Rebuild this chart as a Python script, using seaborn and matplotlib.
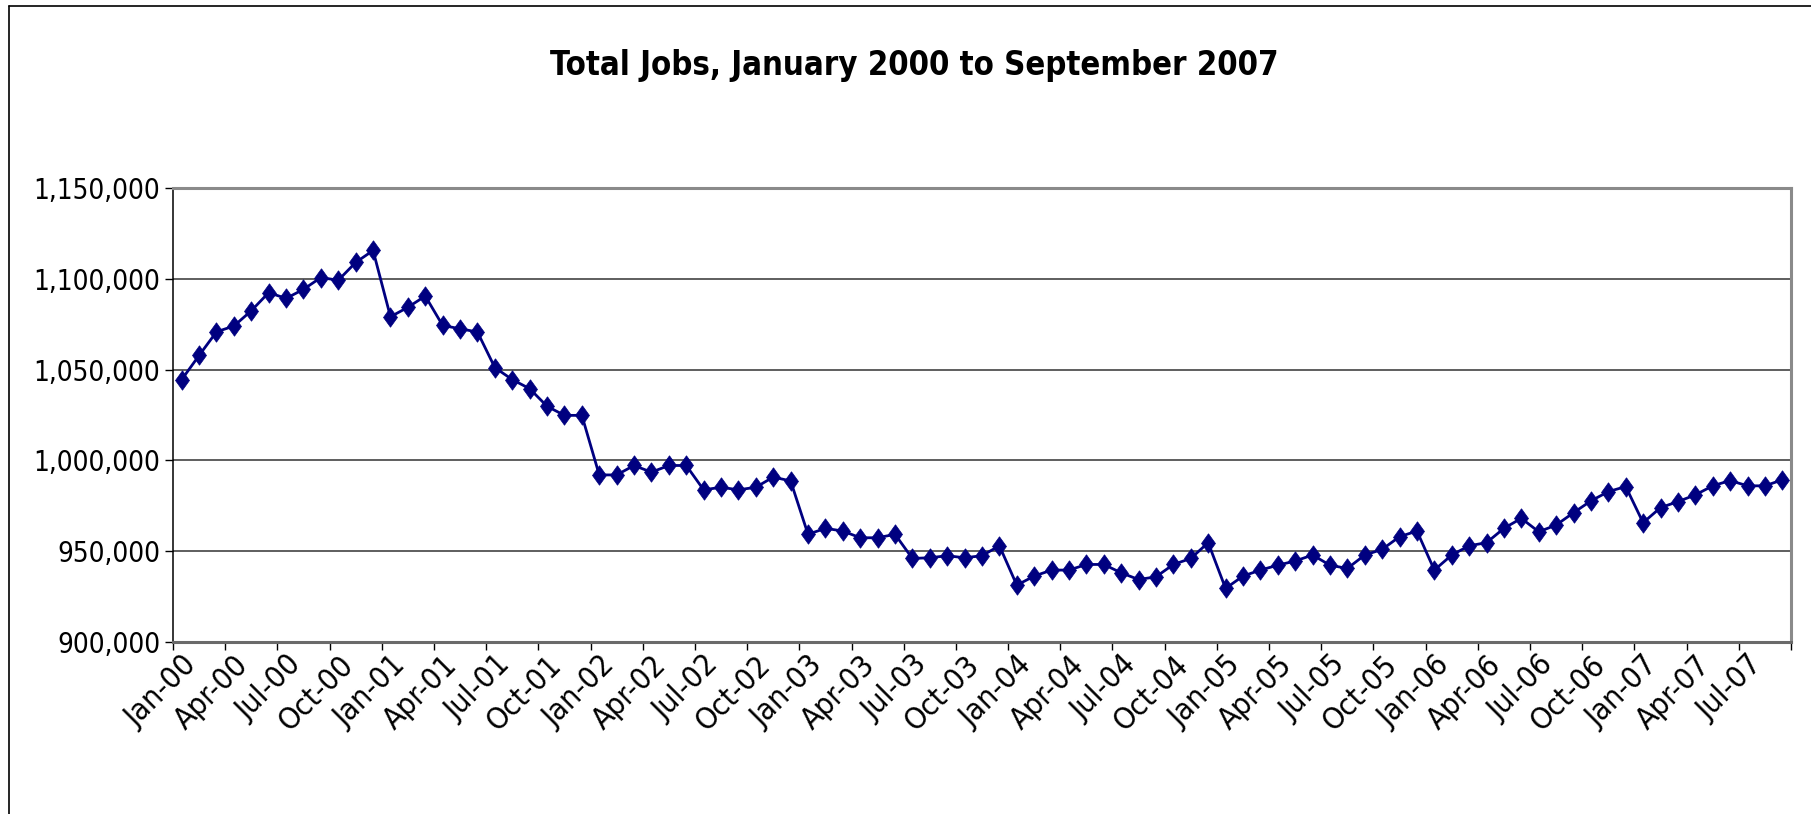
import numpy as np
import pandas as pd
import matplotlib
matplotlib.use("Agg")
import matplotlib.pyplot as plt
from matplotlib import font_manager
from matplotlib.lines import Line2D
import seaborn as sns

# ---- data ----
jobs_2000 = [1044500, 1057800, 1070800, 1074000, 1082400, 1092400, 1089200, 1094200, 1100700, 1099200, 1109000, 1115600]
jobs_2001 = [1079100, 1084300, 1090500, 1074300, 1072500, 1070700, 1051100, 1044500, 1039500, 1029800, 1024800, 1024800]
jobs_2002 = [992000, 992000, 997200, 993500, 997200, 997200, 983800, 985200, 983800, 985200, 990800, 988700]
jobs_2003 = [959300, 962600, 961100, 957400, 957400, 959300, 946000, 946400, 947500, 946400, 947500, 953000]
jobs_2004 = [931300, 936300, 939600, 939600, 942700, 942700, 938100, 934400, 935900, 942700, 946000, 954700]
jobs_2005 = [929500, 936300, 939600, 942300, 944600, 947900, 942300, 940500, 947900, 951000, 958000, 961100]
jobs_2006 = [939600, 947900, 953000, 954700, 962600, 968100, 960700, 964400, 971200, 977700, 982800, 985600]
jobs_2007 = [965700, 974000, 977300, 981000, 986000, 988900, 986000, 986000, 989300]

tick_labels = ["Jan-00", "Apr-00", "Jul-00", "Oct-00", "Jan-01", "Apr-01", "Jul-01", "Oct-01",
               "Jan-02", "Apr-02", "Jul-02", "Oct-02", "Jan-03", "Apr-03", "Jul-03", "Oct-03",
               "Jan-04", "Apr-04", "Jul-04", "Oct-04", "Jan-05", "Apr-05", "Jul-05", "Oct-05",
               "Jan-06", "Apr-06", "Jul-06", "Oct-06", "Jan-07", "Apr-07", "Jul-07"]
y_ticks = [900000, 950000, 1000000, 1050000, 1100000, 1150000]
title = "Total Jobs, January 2000 to September 2007"

jobs = jobs_2000 + jobs_2001 + jobs_2002 + jobs_2003 + jobs_2004 + jobs_2005 + jobs_2006 + jobs_2007
df = pd.DataFrame({"month": np.arange(len(jobs)), "jobs": jobs})

# ---- fonts ----
sns.set_style("white")
names = {f.name for f in font_manager.fontManager.ttflist}
if "Liberation Sans Narrow" in names:
    FONT = ["Liberation Sans Narrow", "DejaVu Sans"]
    STRETCH = "normal"
else:
    FONT = ["DejaVu Sans"]
    STRETCH = "condensed"
plt.rcParams["font.family"] = FONT
plt.rcParams["font.stretch"] = STRETCH

W, H = 1811, 814
fig = plt.figure(figsize=(W / 100, H / 100), dpi=100)
fig.patch.set_facecolor("white")

left, right, top, bottom = 173, 1791, 188, 642
ax = fig.add_axes([left / W, 1 - bottom / H, (right - left) / W, (bottom - top) / H])

navy = "#000080"
diamond = [(0, 1), (0.72, 0), (0, -1), (-0.72, 0), (0, 1)]
sns.lineplot(data=df, x="month", y="jobs", ax=ax, color=navy, linewidth=2.0,
             marker=diamond, markersize=14, markeredgecolor=navy,
             markerfacecolor=navy, markeredgewidth=0.5)

n = len(jobs)
ax.set_xlim(-0.5, n - 0.5)
ax.set_ylim(900000, 1150000)

# gridlines
for v in y_ticks[1:-1]:
    ax.axhline(v, color="#333333", lw=1.1, zorder=0)

# y axis
ax.set_yticks(y_ticks)
ax.set_yticklabels([f"{v:,}" for v in y_ticks])
ax.tick_params(axis="y", direction="out", length=6, width=1, color="black",
               pad=3, labelsize=20, left=True)
for lab in ax.get_yticklabels():
    lab.set_color("black")

# x axis: tick marks between groups, labels at group centres
ax.set_xticks(np.arange(-0.5, n, 3))
ax.set_xticklabels([])
ax.tick_params(axis="x", which="major", direction="out", length=6, width=1, color="black", bottom=True)
ax.set_xticks(np.arange(0, n, 3), tick_labels, minor=True)
ax.tick_params(axis="x", which="minor", length=0, pad=6, labelsize=22)
for lab in ax.get_xticklabels(minor=True):
    lab.set_rotation(45)
    lab.set_ha("right")
    lab.set_va("top")
    lab.set_rotation_mode("anchor")
    lab.set_color("black")

ax.set_xlabel("")
ax.set_ylabel("")

for s in ["top", "right"]:
    ax.spines[s].set_color("#8a8a8a")
    ax.spines[s].set_linewidth(2.2)
ax.spines["bottom"].set_color("#6a6a6a")
ax.spines["bottom"].set_linewidth(2.2)
ax.spines["left"].set_color("black")
ax.spines["left"].set_linewidth(1.1)

# title, fitted to reference width
t = fig.text(914 / W, 1 - 66 / H, title, ha="center", va="center",
             fontsize=36, fontweight="bold", color="black")
fig.canvas.draw()
w = t.get_window_extent().width
t.set_fontsize(36 * 730 / w)

# outer chart frame (left and top visible)
fig.add_artist(Line2D([9 / W, 9 / W], [0, 1 - 6 / H], transform=fig.transFigure, color="black", lw=1.2))
fig.add_artist(Line2D([9 / W, 1], [1 - 6 / H, 1 - 6 / H], transform=fig.transFigure, color="black", lw=1.2))

fig.savefig("out.png", dpi=100, facecolor="white")
